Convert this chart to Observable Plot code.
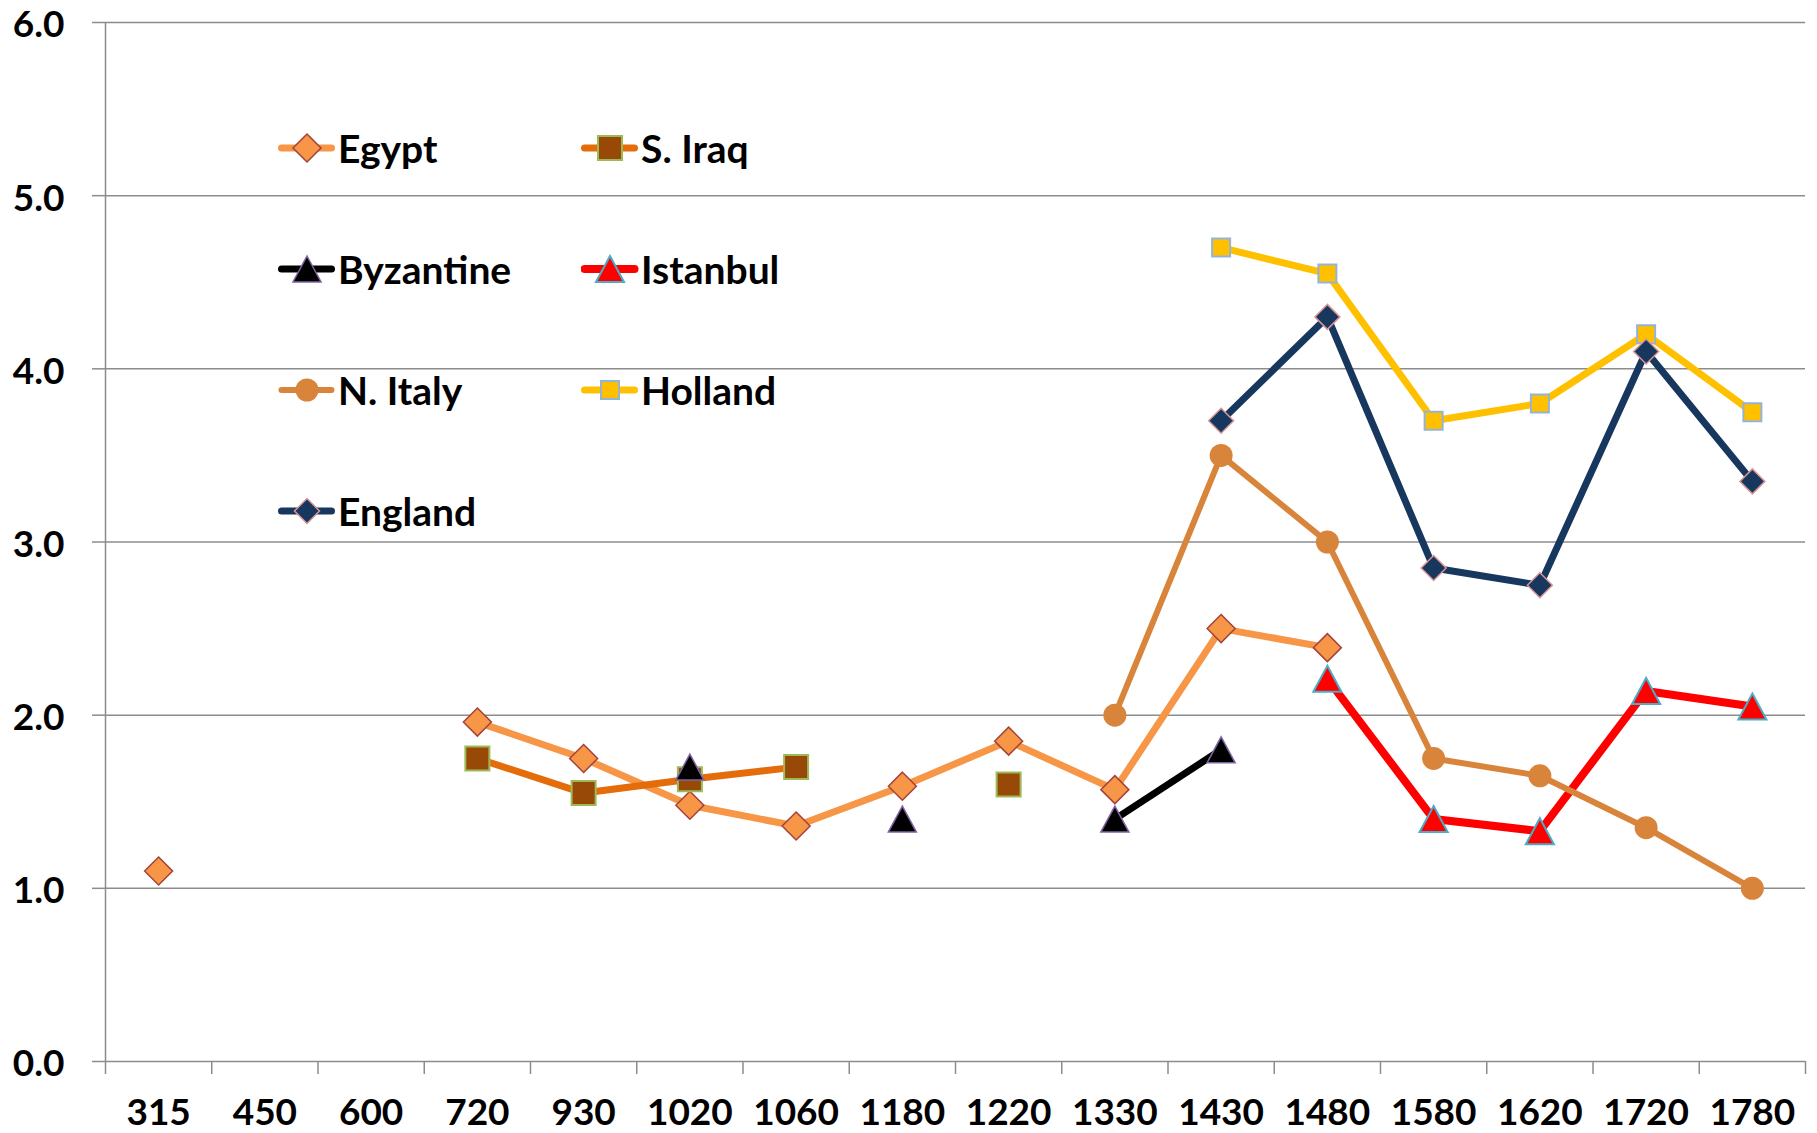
<!DOCTYPE html>
<html>
<head>
<meta charset="utf-8">
<script src="https://cdn.jsdelivr.net/npm/d3@7"></script>
<script src="https://cdn.jsdelivr.net/npm/@observablehq/plot@0.6"></script>
<style>
  body { margin: 0; background: #fff; overflow: hidden; }
  #wrap { position: relative; width: 1817px; height: 1133px; }
  #chart svg { display: block; }
  #legend { position: absolute; left: 0; top: 0; }
  .item { position: absolute; display: flex; align-items: center; height: 50px;
          font-family: Lato, "Open Sans", sans-serif; font-weight: bold; font-size: 39px;
          color: #000; white-space: nowrap; }
  .item svg { display: block; flex: none; }
</style>
</head>
<body>
<div id="wrap"><div id="chart"></div><div id="legend"></div></div>
<script>
// ---------- DATA ----------
const categories = ["315","450","600","720","930","1020","1060","1180","1220","1330","1430","1480","1580","1620","1720","1780"];

const egypt     = [1.10, null, null, 1.96, 1.75, 1.48, 1.36, 1.59, 1.85, 1.57, 2.50, 2.39, null, null, null, null];
const sIraq     = [null, null, null, 1.75, 1.55, 1.63, 1.70, null, 1.60, null, null, null, null, null, null, null];
const byzantine = [null, null, null, null, null, 1.70, null, 1.40, null, 1.40, 1.80, null, null, null, null, null];
const istanbul  = [null, null, null, null, null, null, null, null, null, null, null, 2.21, 1.40, 1.33, 2.14, 2.05];
const nItaly    = [null, null, null, null, null, null, null, null, null, 2.00, 3.50, 3.00, 1.75, 1.65, 1.35, 1.00];
const holland   = [null, null, null, null, null, null, null, null, null, null, 4.70, 4.55, 3.70, 3.80, 4.20, 3.75];
const england   = [null, null, null, null, null, null, null, null, null, null, 3.70, 4.30, 2.85, 2.75, 4.10, 3.35];

const seriesNames  = ["Egypt", "S. Iraq", "Byzantine", "Istanbul", "N. Italy", "Holland", "England"];
const seriesValues = [egypt, sIraq, byzantine, istanbul, nItaly, holland, england];
const yTicks = [0, 1, 2, 3, 4, 5, 6];

// ---------- STYLES ----------
function rad(size) { return Math.sqrt(size / Math.PI); }
const shapes = {
  diamond:  { draw(c, s) { const r = rad(s); c.moveTo(0, -r); c.lineTo(r, 0); c.lineTo(0, r); c.lineTo(-r, 0); c.closePath(); } },
  square:   { draw(c, s) { const r = rad(s); c.rect(-r, -r, 2 * r, 2 * r); } },
  triangle: { draw(c, s) { const r = rad(s); c.moveTo(0, -r); c.lineTo(r * 1.08, r); c.lineTo(-r * 1.08, r); c.closePath(); } },
  circle:   { draw(c, s) { const r = rad(s); c.moveTo(r, 0); c.arc(0, 0, r, 0, 2 * Math.PI); c.closePath(); } }
};
const styles = [
  { line: "#f79646", width: 7, shape: "diamond",  r: 14,   fill: "#f79646", stroke: "#a3433c", sw: 1.5 },
  { line: "#e46c0a", width: 7, shape: "square",   r: 12,   fill: "#984807", stroke: "#9bbb59", sw: 2 },
  { line: "#000000", width: 7, shape: "triangle", r: 13,   fill: "#000000", stroke: "#8064a2", sw: 1.5 },
  { line: "#ff0000", width: 8, shape: "triangle", r: 13,   fill: "#ff0000", stroke: "#4bacc6", sw: 2 },
  { line: "#d9843b", width: 6, shape: "circle",   r: 11.5, fill: "#d9843b", stroke: "none",    sw: 0 },
  { line: "#ffc000", width: 7, shape: "square",   r: 9,    fill: "#ffc000", stroke: "#95b3d7", sw: 2 },
  { line: "#17375e", width: 7, shape: "diamond",  r: 12.5, fill: "#17375e", stroke: "#d99694", sw: 1.5 }
];

const FONT = "Lato, 'Open Sans', sans-serif";
const GRID = "#8c8c8c";

// ---------- MARKS ----------
const marks = [];
marks.push(Plot.ruleY(yTicks, { stroke: GRID, strokeWidth: 1.5 }));
marks.push(Plot.ruleX([-0.5], { stroke: GRID, strokeWidth: 1.5 }));
// y tick marks
marks.push(Plot.axisY({
  ticks: yTicks, tickSize: 13, tickFormat: () => "",
  stroke: GRID, strokeWidth: 1.5
}));
// y tick labels
marks.push(Plot.axisY({
  ticks: yTicks, tickSize: 0, tickPadding: 41, tickFormat: d3.format(".1f"),
  fill: "#000", dy: 3, fontSize: 37, fontWeight: "bold", fontFamily: FONT
}));
// category boundary ticks
marks.push(Plot.axisX({
  ticks: d3.range(categories.length + 1).map(i => i - 0.5), tickSize: 13, tickFormat: () => "",
  stroke: GRID, strokeWidth: 1.5
}));
// category labels
marks.push(Plot.axisX({
  ticks: d3.range(categories.length), tickSize: 0, tickPadding: 37, tickFormat: i => categories[i],
  fill: "#000", fontSize: 37, fontWeight: "bold", fontFamily: FONT
}));

seriesValues.forEach((vals, k) => {
  const st = styles[k];
  const rows = vals.map((v, i) => ({ i, v, cat: categories[i] }));
  marks.push(Plot.line(rows, {
    x: "i", y: "v", stroke: st.line, strokeWidth: st.width,
    strokeLinejoin: "round", strokeLinecap: "round"
  }));
  marks.push(Plot.dot(rows.filter(d => d.v != null), {
    x: "i", y: "v", symbol: shapes[st.shape], r: st.r,
    fill: st.fill, stroke: st.stroke, strokeWidth: st.sw
  }));
});

const chart = Plot.plot({
  width: 1817, height: 1133,
  marginLeft: 105, marginRight: 12, marginTop: 22, marginBottom: 72,
  style: { fontFamily: FONT, fontSize: "36px", fontWeight: "bold", background: "#fff", color: "#000" },
  x: { type: "linear", domain: [-0.5, categories.length - 0.5], label: null },
  y: { domain: [0, 6], label: null },
  marks
});
document.getElementById("chart").appendChild(chart);

// ---------- LEGEND (HTML overlay) ----------
const legend = document.getElementById("legend");
seriesNames.forEach((name, k) => {
  const st = styles[k];
  const col = k % 2, row = Math.floor(k / 2);
  const div = document.createElement("div");
  div.className = "item";
  div.style.left = (278 + col * 303) + "px";
  div.style.top = (148 + row * 121 - 25) + "px";
  const p = d3.path();
  shapes[st.shape].draw(p, st.r * st.r * Math.PI);
  div.innerHTML =
    `<svg width="60" height="50" viewBox="0 0 60 50">
       <line x1="3.5" y1="25" x2="53.5" y2="25" stroke="${st.line}" stroke-width="${st.width}" stroke-linecap="round"/>
       <path transform="translate(29,25)" d="${p.toString()}" fill="${st.fill}" stroke="${st.stroke}" stroke-width="${st.sw}"/>
     </svg><span>${name}</span>`;
  legend.appendChild(div);
});
</script>
</body>
</html>
